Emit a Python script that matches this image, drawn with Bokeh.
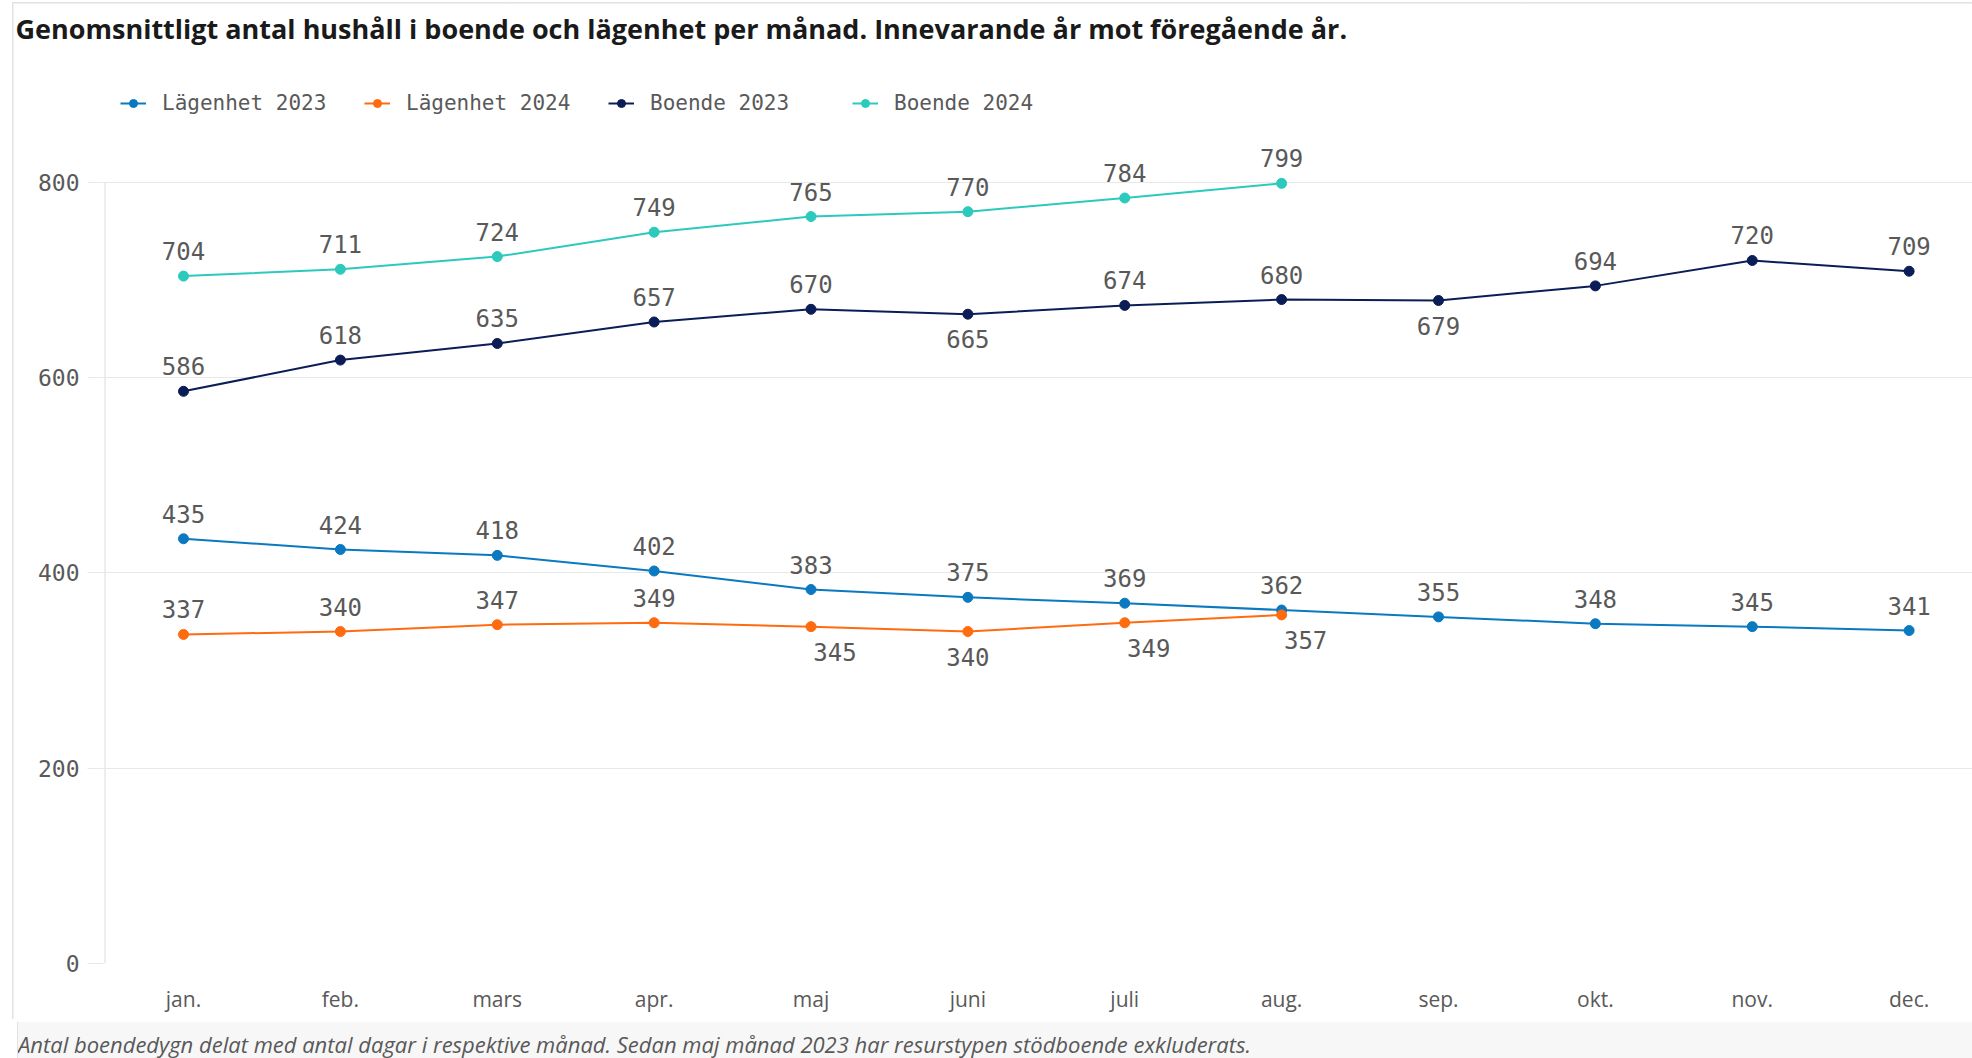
from bokeh.plotting import figure
from bokeh.models import (ColumnDataSource, Range1d, FixedTicker, Legend, LegendItem, Div)
from bokeh.layouts import column
from bokeh.embed import file_html
from bokeh.resources import INLINE
from bokeh.core.properties import value

# ---------------- data ----------------
months = ["jan.", "feb.", "mars", "apr.", "maj", "juni", "juli", "aug.",
          "sep.", "okt.", "nov.", "dec."]
lagenhet_2023 = [435, 424, 418, 402, 383, 375, 369, 362, 355, 348, 345, 341]
lagenhet_2024 = [337, 340, 347, 349, 345, 340, 349, 357]
boende_2023 = [586, 618, 635, 657, 670, 665, 674, 680, 679, 694, 720, 709]
boende_2024 = [704, 711, 724, 749, 765, 770, 784, 799]
y_ticks = [0, 200, 400, 600, 800]

series_names = ["Lägenhet 2023", "Lägenhet 2024", "Boende 2023", "Boende 2024"]
series_values = [lagenhet_2023, lagenhet_2024, boende_2023, boende_2024]

title_text = ("Genomsnittligt antal hushåll i boende och lägenhet per månad. "
              "Innevarande år mot föregående år.")
footnote_text = ("Antal boendedygn delat med antal dagar i respektive månad. "
                 "Sedan maj månad 2023 har resurstypen stödboende exkluderats.")

# ---------------- style ----------------
colors = ["#0a79c0", "#ff6b0f", "#0b1d57", "#2cc9bd"]
# label side: 1 = above the point, -1 = below
label_side = [
    [1] * 12,
    [1, 1, 1, 1, -1, -1, -1, -1],
    [1, 1, 1, 1, 1, -1, 1, 1, -1, 1, 1, 1],
    [1] * 8,
]
# label nudged to the right (to avoid collisions)
label_nudge = [
    [0] * 12,
    [0, 0, 0, 0, 1, 0, 1, 1],
    [0] * 12,
    [0] * 8,
]
TEXT = "#595959"
GRID = "#e8e8e8"
BORDER = "#e2e2e2"
MONO = "DejaVu Sans Mono"

W, H = 1972, 1017
p = figure(width=W, height=H, output_backend="svg", toolbar_location=None,
           x_range=Range1d(-0.510, 11.404), y_range=Range1d(0, 932),
           min_border_left=103, min_border_right=0, min_border_top=52,
           min_border_bottom=54)
p.outline_line_color = None
p.background_fill_color = "white"
p.border_fill_color = None
p.border_fill_alpha = 0

p.title.text = title_text
p.title.text_font = "Open Sans"
p.title.text_font_style = "bold"
p.title.text_font_size = "27px"
p.title.text_color = "#1a1a1a"
p.title.align = "left"
p.title.offset = -88
p.title.standoff = 14

p.xgrid.visible = False
p.ygrid.grid_line_color = GRID
p.ygrid.grid_line_width = 1

p.yaxis.ticker = FixedTicker(ticks=y_ticks)
p.yaxis.axis_line_color = None
p.yaxis.major_tick_out = 16
p.yaxis.major_tick_in = 0
p.yaxis.major_tick_line_color = GRID
p.yaxis.minor_tick_line_color = None
p.yaxis.major_label_standoff = 8
p.yaxis.major_label_text_font = MONO
p.yaxis.major_label_text_font_size = "23px"
p.yaxis.major_label_text_color = TEXT

p.xaxis.ticker = FixedTicker(ticks=list(range(len(months))))
p.xaxis.major_label_overrides = {i: m for i, m in enumerate(months)}
p.xaxis.axis_line_color = None
p.xaxis.major_tick_out = 0
p.xaxis.major_tick_in = 0
p.xaxis.major_tick_line_color = None
p.xaxis.minor_tick_line_color = None
p.xaxis.major_label_standoff = 21
p.xaxis.major_label_text_font = "Open Sans"
p.xaxis.major_label_text_font_size = "21px"
p.xaxis.major_label_text_color = TEXT

# y axis line only over the tick span
p.segment(x0=[-0.5], y0=[y_ticks[0]], x1=[-0.5], y1=[y_ticks[-1]],
          line_color=GRID, line_width=1.5)

items = []
for name, vals, col, side, nudge in zip(series_names, series_values, colors,
                                        label_side, label_nudge):
    xs = list(range(len(vals)))
    src = ColumnDataSource(dict(
        x=xs, y=vals, label=[str(v) for v in vals],
        yo=[-25 * s for s in side], xo=[24 * n for n in nudge]))
    lr = p.line("x", "y", source=src, line_color=col, line_width=2)
    sr = p.scatter("x", "y", source=src, size=10, fill_color=col, line_color=col)
    p.text("x", "y", text="label", source=src, x_offset="xo", y_offset="yo",
           text_align="center", text_baseline="middle",
           text_font=value(MONO), text_font_size="24px", text_color=TEXT)
    items.append(LegendItem(label=name, renderers=[lr, sr]))

legend = Legend(items=items, orientation="horizontal", location=(17, 848),
                glyph_width=26, glyph_height=20, label_standoff=16,
                label_width=202, spacing=0, padding=0, margin=0,
                border_line_color=None, background_fill_alpha=0,
                label_text_font=MONO, label_text_font_size="21px",
                label_text_color=TEXT)
p.add_layout(legend)

footer = Div(text=(
    '<div style="margin-left:12px;width:1960px;border-left:1.5px solid ' + BORDER + ';'
    'background:#f7f7f7;height:41px;box-sizing:border-box;'
    'padding:8px 0 0 0;font-family:\'Open Sans\';'
    'font-style:italic;font-size:22px;line-height:28px;color:#595959;'
    'white-space:nowrap;overflow:hidden;">'
    + footnote_text + '</div>'),
    width=W, height=41)

layout = column(p, footer, spacing=0)
layout.styles = {
    "background": (
        "linear-gradient(%s,%s) 12px 2px / 100%% 1.5px no-repeat, "
        "linear-gradient(%s,%s) 12px 2px / 1.5px 1017px no-repeat, white"
    ) % (BORDER, BORDER, BORDER, BORDER)
}
open("out.html", "w").write(file_html(layout, INLINE))
